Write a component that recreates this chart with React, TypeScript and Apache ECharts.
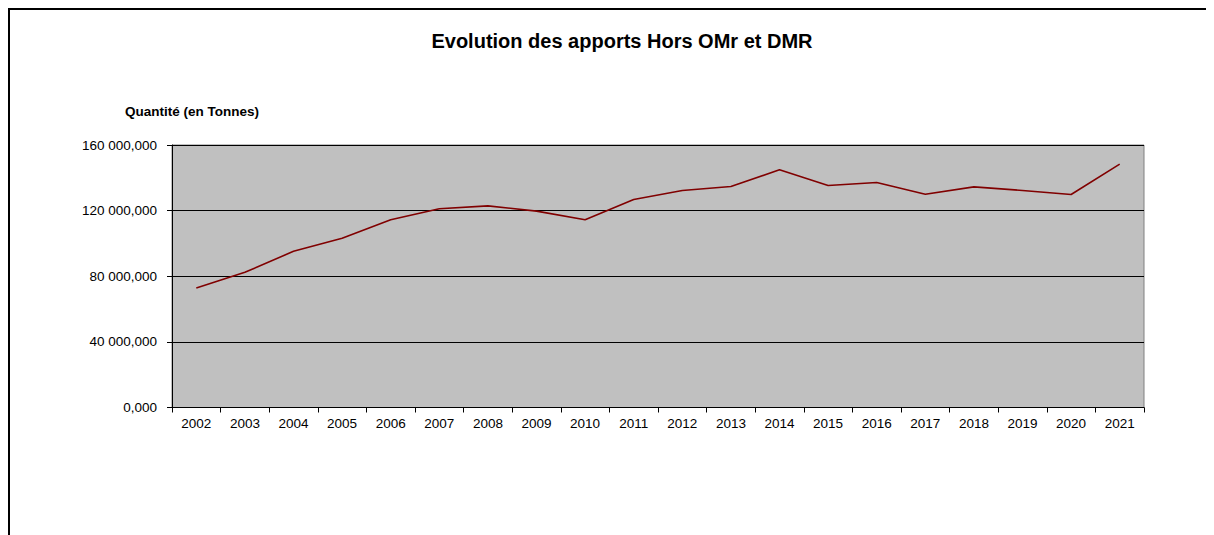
import React, { useEffect, useRef } from "react";
import * as echarts from "echarts";

const years = ["2002","2003","2004","2005","2006","2007","2008","2009","2010","2011","2012","2013","2014","2015","2016","2017","2018","2019","2020","2021"];
const quantities = [72900, 82400, 95200, 103100, 114400, 121100, 122900, 119700, 114400, 126800, 132300, 134700, 144900, 135300, 137100, 130000, 134500, 132300, 129800, 148300];
const yTicks = { min: 0, max: 160000, interval: 40000 };
const titleText = "Evolution des apports Hors OMr et DMR";
const yName = "Quantité (en Tonnes)";

function fmt(v: number): string {
  const s = Math.round(v).toString().replace(/\B(?=(\d{3})+(?!\d))/g, " ");
  return s + ",000";
}

const FONT = "Arial, 'Liberation Sans', sans-serif";

export default function App() {
  const ref = useRef<HTMLDivElement>(null);
  useEffect(() => {
    document.documentElement.style.overflow = "hidden";
    const chart = echarts.init(ref.current!, null, { renderer: "svg" });
    chart.setOption({
      animation: false,
      graphic: [
        {
          type: "text",
          x: 612,
          y: 31,
          style: {
            text: titleText,
            font: "bold 20px Arial, 'Liberation Sans', sans-serif",
            fill: "#000",
            textAlign: "center",
            textVerticalAlign: "middle",
          },
        },
        {
          type: "text",
          x: 115,
          y: 101,
          style: {
            text: yName,
            font: "bold 13.5px Arial, 'Liberation Sans', sans-serif",
            fill: "#000",
            textAlign: "left",
            textVerticalAlign: "middle",
          },
        },
      ],
      grid: {
        left: 162,
        top: 135,
        width: 972,
        height: 262.5,
        show: true,
        backgroundColor: "#c0c0c0",
        borderColor: "#808080",
        borderWidth: 1,
      },
      xAxis: {
        type: "category",
        data: years,
        boundaryGap: true,
        axisLine: { show: true, lineStyle: { color: "#000", width: 1 } },
        axisTick: { show: true, alignWithLabel: false, length: 5, lineStyle: { color: "#000" } },
        axisLabel: {
          color: "#000",
          fontSize: 13.5,
          fontFamily: FONT,
          margin: 9,
          interval: 0,
        },
        splitLine: { show: false },
      },
      yAxis: {
        type: "value",
        min: yTicks.min,
        max: yTicks.max,
        interval: yTicks.interval,
        axisLine: { show: true, lineStyle: { color: "#000", width: 1 } },
        axisTick: { show: true, length: 5, lineStyle: { color: "#000" } },
        axisLabel: {
          color: "#000",
          fontSize: 13.5,
          fontFamily: FONT,
          margin: 15,
          formatter: (v: number) => fmt(v),
        },
        splitLine: { show: true, lineStyle: { color: "#000", width: 1 } },
      },
      series: [
        {
          type: "line",
          data: quantities,
          symbol: "none",
          lineStyle: { color: "#800000", width: 1.6 },
        },
      ],
    });
    return () => chart.dispose();
  }, []);
  return (
    <div style={{ width: 1240, height: 600, border: "2px solid #000", boxSizing: "border-box" }}>
      <div ref={ref} style={{ width: 1236, height: 596 }} />
    </div>
  );
}
